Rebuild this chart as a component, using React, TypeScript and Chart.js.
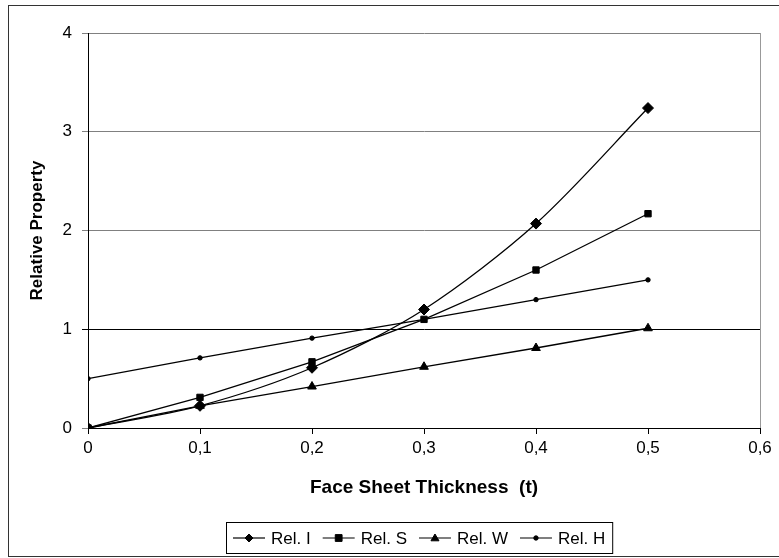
import React, { useEffect, useRef } from "react";
import { Chart, registerables } from "chart.js";

Chart.register(...registerables);

const thickness = [0, 0.1, 0.2, 0.3, 0.4, 0.5];
const relI = [0, 0.225, 0.61, 1.2, 2.07, 3.24];
const relS = [0, 0.31, 0.67, 1.1, 1.6, 2.17];
const relW = [0, 0.225, 0.42, 0.62, 0.81, 1.01];
const relH = [0.5, 0.71, 0.91, 1.1, 1.3, 1.5];
const seriesLabels = ["Rel. I", "Rel. S", "Rel. W", "Rel. H"];
const yTicks = [0, 1, 2, 3, 4];
const xTicks = [0, 0.1, 0.2, 0.3, 0.4, 0.5, 0.6];

const FONT = '"Liberation Sans", Arial, sans-serif';

function drawMarker(ctx: CanvasRenderingContext2D, style: string, x: number, y: number, r: number) {
  ctx.save();
  ctx.fillStyle = "#000";
  ctx.strokeStyle = "#000";
  ctx.lineWidth = 1;
  ctx.beginPath();
  if (style === "rectRot") {
    ctx.moveTo(x, y - r);
    ctx.lineTo(x + r, y);
    ctx.lineTo(x, y + r);
    ctx.lineTo(x - r, y);
    ctx.closePath();
  } else if (style === "rect") {
    const s = r * 0.85;
    ctx.rect(x - s, y - s, 2 * s, 2 * s);
  } else if (style === "triangle") {
    ctx.moveTo(x, y - r);
    ctx.lineTo(x + r, y + r * 0.7);
    ctx.lineTo(x - r, y + r * 0.7);
    ctx.closePath();
  } else {
    ctx.arc(x, y, r, 0, Math.PI * 2);
  }
  ctx.fill();
  ctx.stroke();
  ctx.restore();
}

const framePlugin = {
  id: "frame",
  beforeDraw(chart: any) {
    const { ctx, width, height } = chart;
    ctx.save();
    ctx.fillStyle = "#fff";
    ctx.fillRect(0, 0, width, height);
    ctx.strokeStyle = "#333";
    ctx.lineWidth = 1;
    ctx.strokeRect(8.5, 5.5, width + 10, 551);
    ctx.restore();
  },
  afterDraw(chart: any) {
    const { ctx, chartArea } = chart;
    ctx.save();
    ctx.strokeStyle = "#999";
    ctx.lineWidth = 1;
    ctx.beginPath();
    ctx.moveTo(Math.round(chartArea.right) + 0.5, chartArea.top);
    ctx.lineTo(Math.round(chartArea.right) + 0.5, chartArea.bottom);
    ctx.stroke();

    ctx.font = "17px " + FONT;
    const items = chart.data.datasets.map((ds: any) => ({
      label: ds.label,
      style: ds.pointStyle,
      w: ctx.measureText(ds.label).width,
    }));
    const lineLen = 32, gap = 6, itemGap = 12, padX = 7;
    const total =
      items.reduce((s: number, it: any) => s + lineLen + gap + it.w, 0) + itemGap * (items.length - 1);
    const cx = 419;
    let x = Math.round(cx - total / 2);
    const top = 522, h = 31;
    const cy = top + h / 2 + 0.5;
    ctx.strokeStyle = "#000";
    ctx.lineWidth = 1;
    ctx.strokeRect(x - padX + 0.5, top + 0.5, total + 2 * padX, h);
    ctx.fillStyle = "#000";
    ctx.textBaseline = "middle";
    ctx.textAlign = "left";
    items.forEach((it: any) => {
      ctx.beginPath();
      ctx.lineWidth = 1.2;
      ctx.moveTo(x, cy);
      ctx.lineTo(x + lineLen, cy);
      ctx.stroke();
      drawMarker(ctx, it.style, x + lineLen / 2, cy, it.style === "circle" ? 2.2 : 4);
      ctx.fillText(it.label, x + lineLen + gap, cy + 1);
      x += lineLen + gap + it.w + itemGap;
    });
    ctx.restore();
  },
};

export default function App() {
  const ref = useRef<HTMLCanvasElement | null>(null);
  useEffect(() => {
    if (!ref.current) return;
    const mk = (label: string, data: number[], style: string, r: number, tension: number) => ({
      label,
      data: thickness.map((t, i) => ({ x: t, y: data[i] })),
      borderColor: "#000",
      backgroundColor: "#000",
      borderWidth: 1.3,
      pointStyle: style,
      pointRadius: r,
      pointBorderWidth: 1,
      pointBackgroundColor: "#000",
      pointBorderColor: "#000",
      tension,
    });
    const chart = new Chart(ref.current, {
      type: "line",
      data: {
        datasets: [
          mk(seriesLabels[0], relI, "rectRot", 5.5, 0.3),
          mk(seriesLabels[1], relS, "rect", 4.5, 0),
          mk(seriesLabels[2], relW, "triangle", 5, 0),
          mk(seriesLabels[3], relH, "circle", 2.2, 0),
        ] as any,
      },
      options: {
        animation: false,
        responsive: false,
        devicePixelRatio: 1,
        layout: { padding: { top: 33, right: 19, bottom: 59, left: 0 } },
        plugins: { legend: { display: false }, tooltip: { enabled: false } },
        scales: {
          x: {
            type: "linear",
            min: 0,
            max: 0.6,
            afterFit: (s: any) => {
              s.height = 71;
            },
            afterBuildTicks: (s: any) => {
              s.ticks = xTicks.map((v) => ({ value: v }));
            },
            ticks: {
              color: "#000",
              font: { family: FONT, size: 17 },
              padding: 4,
              maxRotation: 0,
              autoSkip: false,
              callback: (v: any) => (v === 0 ? "0" : Number(v).toFixed(1).replace(".", ",")),
            },
            grid: { drawOnChartArea: false, drawTicks: true, tickLength: 6, color: "#000" },
            border: { color: "#000", width: 1 },
            title: {
              display: true,
              text: "Face Sheet Thickness  (t)",
              color: "#000",
              font: { family: FONT, size: 19, weight: "bold" },
              padding: { top: 0, bottom: 0 },
            },
          },
          y: {
            type: "linear",
            min: 0,
            max: 4,
            afterFit: (s: any) => {
              s.width = 88;
            },
            afterBuildTicks: (s: any) => {
              s.ticks = yTicks.map((v) => ({ value: v }));
            },
            ticks: {
              color: "#000",
              font: { family: FONT, size: 17 },
              padding: 10,
            },
            grid: {
              drawTicks: true,
              tickLength: 6,
              color: (c: any) => (c.tick && c.tick.value === 1 ? "#000" : "#808080"),
              lineWidth: 1,
            },
            border: { color: "#000", width: 1 },
            title: {
              display: true,
              text: "Relative Property",
              color: "#000",
              font: { family: FONT, size: 17, weight: "bold" },
              padding: { top: 27, bottom: 0 },
            },
          },
        },
      },
      plugins: [framePlugin],
    } as any);
    return () => chart.destroy();
  }, []);
  return (
    <div style={{ position: "fixed", left: 0, top: 0, width: 779, height: 558 }}>
      <canvas ref={ref} width={779} height={558} style={{ display: "block" }} />
    </div>
  );
}
